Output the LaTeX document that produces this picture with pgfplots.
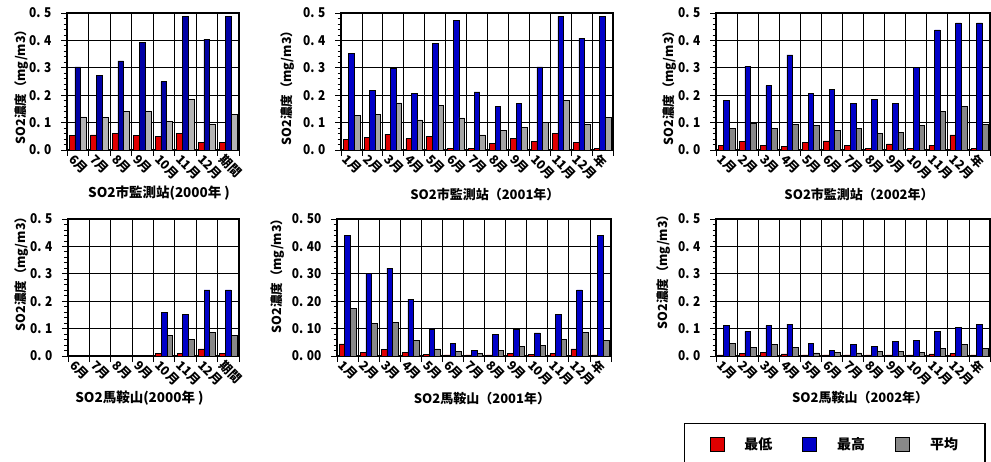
\documentclass[border=0pt]{standalone}
\usepackage{fontspec}
\usepackage{pgfplots}
\usepackage{pgfplotstable}
\pgfplotsset{compat=1.18}
\setmainfont{Noto Sans CJK JP}
\newfontfamily\jpc{Noto Sans CJK JP}[FakeStretch=0.88]
\definecolor{cred}{RGB}{224,0,0}
\definecolor{cblue}{RGB}{0,0,200}
\definecolor{cblueA}{RGB}{0,0,165}
\definecolor{cgrayA}{RGB}{180,180,180}
\definecolor{cgrayB}{RGB}{165,165,165}
\definecolor{cgrayC}{RGB}{136,136,136}

\pgfplotstableread{
x r b g
0 0.053 0.303 0.121
1 0.055 0.272 0.118
2 0.060 0.325 0.141
3 0.053 0.394 0.141
4 0.050 0.250 0.103
5 0.060 0.488 0.184
6 0.027 0.405 0.095
7 0.027 0.488 0.129
}\tA
\pgfplotstableread{
x r b g
0 0.039 0.354 0.126
1 0.046 0.217 0.131
2 0.058 0.297 0.172
3 0.041 0.208 0.110
4 0.050 0.388 0.163
5 0.006 0.473 0.117
6 0.006 0.212 0.055
7 0.023 0.159 0.072
8 0.041 0.169 0.083
9 0.030 0.303 0.100
10 0.060 0.488 0.182
11 0.028 0.408 0.093
12 0.006 0.488 0.118
}\tB
\pgfplotstableread{
x r b g
0 0.018 0.181 0.080
1 0.030 0.306 0.097
2 0.018 0.235 0.078
3 0.012 0.347 0.092
4 0.027 0.208 0.090
5 0.033 0.221 0.072
6 0.018 0.169 0.079
7 0.006 0.184 0.061
8 0.022 0.170 0.063
9 0.006 0.302 0.090
10 0.018 0.438 0.141
11 0.055 0.464 0.160
12 0.006 0.464 0.092
}\tC
\pgfplotstableread{
x r b g
4 0.010 0.160 0.075
5 0.010 0.152 0.061
6 0.026 0.241 0.086
7 0.010 0.241 0.075
}\tD
\pgfplotstableread{
x r b g
0 0.044 0.440 0.175
1 0.012 0.302 0.120
2 0.024 0.321 0.122
3 0.013 0.208 0.058
4 0.005 0.099 0.026
5 0.004 0.047 0.016
6 0.004 0.019 0.010
7 0.004 0.079 0.021
8 0.010 0.097 0.035
9 0.005 0.084 0.039
10 0.010 0.152 0.060
11 0.026 0.241 0.086
12 0.004 0.440 0.058
}\tE
\pgfplotstableread{
x r b g
0 0.004 0.112 0.047
1 0.010 0.090 0.030
2 0.013 0.111 0.043
3 0.008 0.116 0.032
4 0.004 0.047 0.011
5 0.004 0.021 0.012
6 0.004 0.043 0.011
7 0.004 0.036 0.016
8 0.004 0.052 0.016
9 0.004 0.057 0.013
10 0.008 0.091 0.029
11 0.010 0.103 0.043
12 0.004 0.116 0.027
}\tF

\pgfplotsset{
  base/.style={
    scale only axis, height=137pt, anchor=south west,
    ybar=0pt, bar width=0.267,
    ymin=0, ymax=0.5, enlargelimits=false,
    ytick={0,0.1,0.2,0.3,0.4,0.5},
    yticklabels={0. 0,0. 1,0. 2,0. 3,0. 4,0. 5},
    minor y tick num=4,
    xmajorgrids, ymajorgrids,
    major grid style={black, line width=0.8pt},
    axis line style={line width=1.6pt},
    tick align=outside, tick pos=left,
    major tick length=6pt, minor tick length=3.5pt,
    tick style={black, line width=0.8pt},
    xticklabels={},
    extra x tick style={grid=none, major tick length=0pt},
    xticklabel style={xshift=-2.5pt, yshift=-3pt, rotate=-45, anchor=north west, inner sep=0pt, font=\bfseries\fontsize{12.5}{12.5}\selectfont},
    yticklabel style={xshift=-6pt, font=\jpc\bfseries\fontsize{13.5}{13.5}\selectfont},
    ylabel style={anchor=center, font=\bfseries\fontsize{12.5}{12.5}\selectfont},
    xlabel style={anchor=center, font=\bfseries\fontsize{13}{13}\selectfont},
    every axis plot/.append style={draw=black, line width=0.6pt},
    /pgf/number format/assume math mode=true,
  },
  m8/.style={xmin=-0.5, xmax=7.5,
    xtick={-0.5,0.5,1.5,2.5,3.5,4.5,5.5,6.5,7.5},
    extra x ticks={0,1,2,3,4,5,6,7},
    extra x tick labels={6月,7月,8月,9月,10月,11月,12月,期間}},
  m13/.style={xmin=-0.5, xmax=12.5,
    xtick={-0.5,0.5,1.5,2.5,3.5,4.5,5.5,6.5,7.5,8.5,9.5,10.5,11.5,12.5},
    extra x ticks={0,1,2,3,4,5,6,7,8,9,10,11,12},
    extra x tick labels={1月,2月,3月,4月,5月,6月,7月,8月,9月,10月,11月,12月,年}},
}

\begin{document}
\begin{tikzpicture}
\path[use as bounding box] (0,0) rectangle (991pt,461pt);

% Plot 1
\begin{axis}[base, m8, at={(67pt,311pt)}, width=172pt,
  ylabel={SO2濃度（mg/m3）}, ylabel style={at={(axis description cs:-0.265,0.482)}},
  xlabel={SO2市監測站(2000年 )}, xlabel style={at={(axis description cs:0.535,-0.314)}, font=\bfseries\fontsize{13.5}{13.5}\selectfont}]
\addplot[fill=cred] table[x=x,y=r]{\tA};
\addplot[fill=cblueA] table[x=x,y=b]{\tA};
\addplot[fill=cgrayA] table[x=x,y=g]{\tA};
\end{axis}

% Plot 2
\begin{axis}[base, m13, at={(341pt,311pt)}, width=272pt,
  ylabel={SO2濃度（mg/m3）}, ylabel style={at={(axis description cs:-0.195,0.474)}},
  xlabel={SO2市監測站（2001年）}, xlabel style={at={(axis description cs:0.529,-0.328)}}]
\addplot[fill=cred] table[x=x,y=r]{\tB};
\addplot[fill=cblue] table[x=x,y=b]{\tB};
\addplot[fill=cgrayB] table[x=x,y=g]{\tB};
\end{axis}

% Plot 3
\begin{axis}[base, m13, at={(716pt,311pt)}, width=274pt,
  ylabel={SO2濃度（mg/m3）}, ylabel style={at={(axis description cs:-0.168,0.474)}},
  xlabel={SO2市監測站（2002年）}, xlabel style={at={(axis description cs:0.522,-0.328)}}]
\addplot[fill=cred] table[x=x,y=r]{\tC};
\addplot[fill=cblue] table[x=x,y=b]{\tC};
\addplot[fill=cgrayC] table[x=x,y=g]{\tC};
\end{axis}

% Plot 4
\begin{axis}[base, m8, at={(68pt,105pt)}, width=171pt,
  ylabel={SO2濃度（mg/m3）}, ylabel style={at={(axis description cs:-0.269,0.62)}},
  xlabel={SO2馬鞍山(2000年 )}, xlabel style={at={(axis description cs:0.418,-0.307)}, font=\bfseries\fontsize{13.5}{13.5}\selectfont}]
\addplot[fill=cred] table[x=x,y=r]{\tD};
\addplot[fill=cblue] table[x=x,y=b]{\tD};
\addplot[fill=cgrayC] table[x=x,y=g]{\tD};
\end{axis}

% Plot 5
\begin{axis}[base, m13, at={(337pt,105pt)}, width=274pt,
  yticklabels={0. 00,0. 10,0. 20,0. 30,0. 40,0. 50},
  ylabel={SO2濃度（mg/m3）}, ylabel style={at={(axis description cs:-0.215,0.606)}},
  xlabel={SO2馬鞍山（2001年）}, xlabel style={at={(axis description cs:0.529,-0.314)}}]
\addplot[fill=cred] table[x=x,y=r]{\tE};
\addplot[fill=cblue] table[x=x,y=b]{\tE};
\addplot[fill=cgrayC] table[x=x,y=g]{\tE};
\end{axis}

% Plot 6 + legend
\begin{axis}[base, m13, at={(716pt,105pt)}, width=274pt,
  ylabel={SO2濃度（mg/m3）}, ylabel style={at={(axis description cs:-0.19,0.635)}},
  xlabel={SO2馬鞍山（2002年）}, xlabel style={at={(axis description cs:0.526,-0.3)}},
  legend columns=3,
  legend image code/.code={\draw[#1, draw=black, line width=0.8pt] (0pt,-7pt) rectangle (14pt,7pt);},
  legend style={at={(axis description cs:-0.117,-0.489)}, anchor=north west,
    draw=black, line width=1.4pt, inner xsep=25pt, inner ysep=12pt,
    font=\bfseries\fontsize{14}{14}\selectfont,
    /tikz/every odd column/.append style={column sep=18pt},
    /tikz/every even column/.append style={column sep=28pt}}]
\addplot[fill=cred] table[x=x,y=r]{\tF};
\addplot[fill=cblue] table[x=x,y=b]{\tF};
\addplot[fill=cgrayC] table[x=x,y=g]{\tF};
\legend{最低,最高,平均}
\end{axis}
\end{tikzpicture}
\end{document}
